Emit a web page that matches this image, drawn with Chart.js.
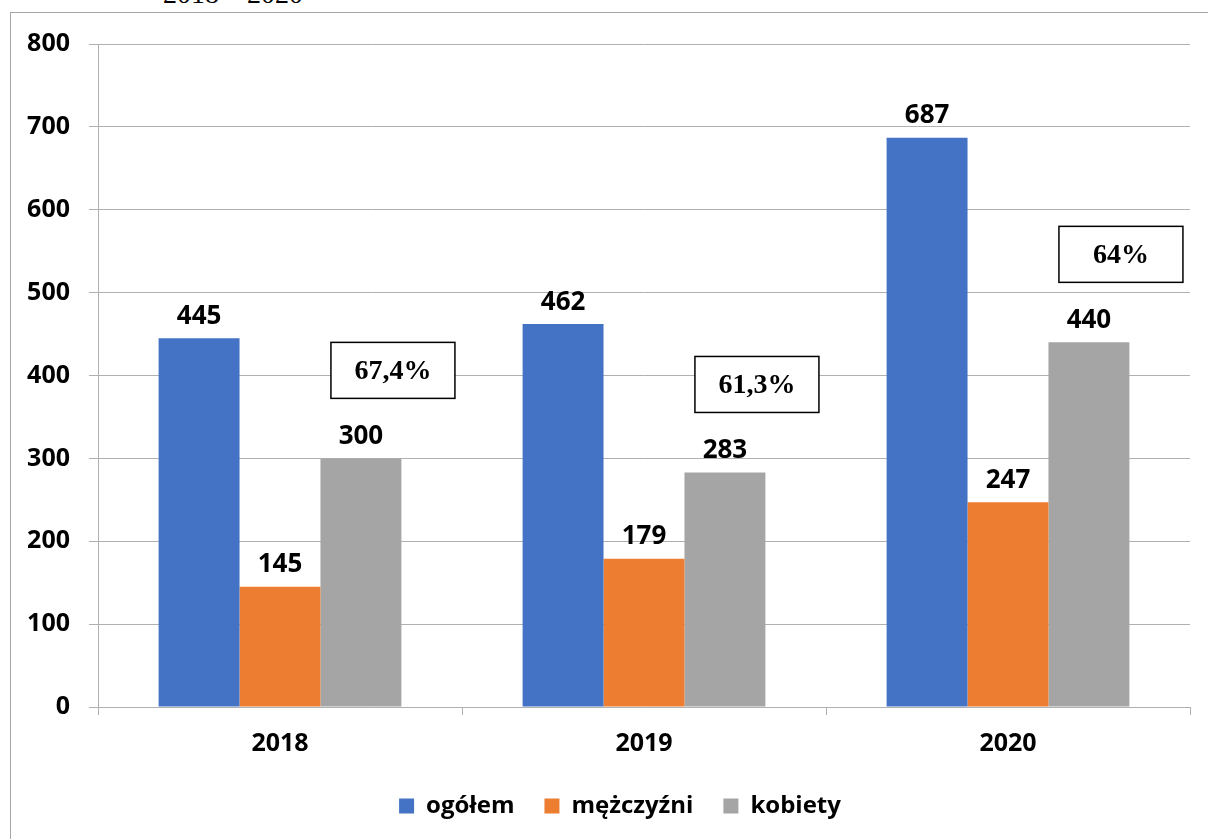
<!DOCTYPE html>
<html>
<head>
<meta charset="utf-8">
<script src="https://cdn.jsdelivr.net/npm/chart.js@4.4.0/dist/chart.umd.min.js"></script>
<style>
  html, body { margin: 0; padding: 0; background: #fff; overflow: hidden; }
  #wrap { position: relative; width: 1208px; height: 839px; }
  #frame { position: absolute; left: 10px; top: 12px; width: 1300px; height: 900px; border: 1px solid #a6a6a6; }
  #title { position: absolute; left: 163px; top: -22px; font: 28px "Liberation Serif", serif; color: #000; }
  canvas { position: absolute; left: 0; top: 0; }
</style>
</head>
<body>
<div id="wrap">
  <div id="frame"></div>
  <div id="title">2018 – 2020</div>
  <canvas id="chart" width="1208" height="839"></canvas>
</div>
<script>
// data
const years = ['2018', '2019', '2020'];
const ogolem = [445, 462, 687];
const mezczyzni = [145, 179, 247];
const kobiety = [300, 283, 440];
const shareWomen = ['67,4%', '61,3%', '64%'];
const yTicks = [0, 100, 200, 300, 400, 500, 600, 700, 800];

const gridColor = '#b0b0b0';

// value labels above every bar
const valueLabels = {
    id: 'valueLabels',
    afterDatasetsDraw(chart) {
        const ctx = chart.ctx;
        ctx.save();
        ctx.font = 'bold 26px "Open Sans"';
        ctx.fillStyle = '#000';
        ctx.textAlign = 'center';
        ctx.textBaseline = 'middle';
        chart.data.datasets.forEach((ds, i) => {
            chart.getDatasetMeta(i).data.forEach((bar, j) => {
                ctx.fillText(ds.data[j], bar.x, bar.y - 22);
            });
        });
        ctx.restore();
    }
};

// boxed percentage of women, placed above the "kobiety" bar
const shareBoxes = {
    id: 'shareBoxes',
    afterDatasetsDraw(chart) {
        const ctx = chart.ctx;
        const meta = chart.getDatasetMeta(2);
        ctx.save();
        meta.data.forEach((bar, j) => {
            const cx = bar.x + 32;
            const cy = bar.y - 88;
            const w = 124, h = 56;
            ctx.fillStyle = '#fff';
            ctx.fillRect(cx - w / 2, cy - h / 2, w, h);
            ctx.strokeStyle = '#000';
            ctx.lineWidth = 1.5;
            ctx.strokeRect(cx - w / 2, cy - h / 2, w, h);
            ctx.fillStyle = '#000';
            ctx.font = 'bold 28px "Liberation Serif"';
            ctx.textAlign = 'center';
            ctx.textBaseline = 'middle';
            ctx.fillText(shareWomen[j], cx, cy + 1);
        });
        ctx.restore();
    }
};

// legend sits a bit right of the canvas centre in the original
const legendShift = {
    id: 'legendShift',
    afterLayout(chart) {
        const lg = chart.legend;
        lg.left += 25; lg.right += 25;
        lg.top -= 3; lg.bottom -= 3;
    }
};

const chart = new Chart(document.getElementById('chart'), {
    type: 'bar',
    data: {
        labels: years,
        datasets: [
            { label: 'ogółem', data: ogolem, backgroundColor: '#4472C4' },
            { label: 'mężczyźni', data: mezczyzni, backgroundColor: '#ED7D31' },
            { label: 'kobiety', data: kobiety, backgroundColor: '#A5A5A5' }
        ]
    },
    options: {
        responsive: false,
        animation: false,
        datasets: { bar: { barPercentage: 1, categoryPercentage: 0.667 } },
        layout: { padding: { left: 0, right: 18, top: 44, bottom: 8 } },
        plugins: {
            tooltip: { enabled: false },
            legend: {
                position: 'bottom',
                labels: {
                    color: '#000',
                    font: { family: '"Open Sans"', size: 24, weight: 'bold' },
                    boxWidth: 15,
                    boxHeight: 15,
                    padding: 30
                }
            }
        },
        scales: {
            x: {
                grid: { drawOnChartArea: false, drawTicks: true, tickLength: 8, color: gridColor },
                border: { color: gridColor },
                ticks: {
                    color: '#000',
                    padding: 14,
                    font: { family: '"Open Sans"', size: 25, weight: 'bold' }
                },
                afterFit(scale) { scale.height = 60; }
            },
            y: {
                min: 0,
                max: 800,
                afterBuildTicks(scale) { scale.ticks = yTicks.map(v => ({ value: v })); },
                grid: { color: gridColor, tickLength: 9 },
                border: { color: gridColor },
                ticks: {
                    color: '#000',
                    padding: 19,
                    font: { family: '"Open Sans"', size: 25, weight: 'bold' }
                },
                afterFit(scale) { scale.width = 98; }
            }
        }
    },
    plugins: [valueLabels, shareBoxes, legendShift]
});
</script>
</body>
</html>
